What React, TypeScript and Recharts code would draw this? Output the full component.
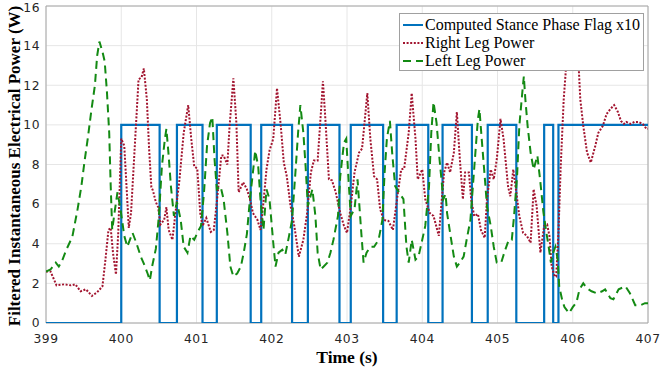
import React from "react";
import {
  LineChart,
  Line,
  XAxis,
  YAxis,
  CartesianGrid,
  ReferenceArea,
  Legend,
} from "recharts";

// stance flag (x10), step changes
const stanceTime = [
  399, 400.0, 400.51, 400.74, 401.08, 401.27, 401.72, 401.86, 402.27, 402.48,
  402.9, 403.05, 403.48, 403.66, 404.08, 404.27, 404.66, 404.87, 405.25,
  405.62, 405.74, 405.81, 407,
];
const stanceFlag = [
  0, 10, 0, 10, 0, 10, 0, 10, 0, 10, 0, 10, 0, 10, 0, 10, 0, 10, 0, 10, 0, 10,
  10,
];

const rightTime = [
  399.0, 399.06, 399.14, 399.24, 399.33, 399.39, 399.46, 399.53, 399.61,
  399.68, 399.75, 399.79, 399.83, 399.86, 399.89, 399.93, 399.96, 400.0,
  400.04, 400.07, 400.1, 400.13, 400.17, 400.23, 400.27, 400.3, 400.34, 400.37,
  400.4, 400.42, 400.46, 400.49, 400.52, 400.57, 400.6, 400.63, 400.68, 400.72,
  400.77, 400.83, 400.89, 400.93, 400.97, 401.01, 401.05, 401.08, 401.13,
  401.19, 401.23, 401.27, 401.33, 401.36, 401.41, 401.44, 401.49, 401.53,
  401.56, 401.62, 401.67, 401.71, 401.75, 401.81, 401.85, 401.89, 401.93,
  401.97, 402.02, 402.07, 402.12, 402.16, 402.2, 402.25, 402.3, 402.36, 402.42,
  402.47, 402.52, 402.56, 402.61, 402.66, 402.68, 402.71, 402.76, 402.8,
  402.85, 402.91, 402.96, 403.0, 403.05, 403.1, 403.16, 403.2, 403.27, 403.31,
  403.36, 403.4, 403.44, 403.49, 403.55, 403.61, 403.67, 403.72, 403.76,
  403.82, 403.86, 403.91, 403.94, 404.0, 404.04, 404.1, 404.15, 404.22, 404.26,
  404.29, 404.33, 404.37, 404.42, 404.46, 404.5, 404.54, 404.57, 404.62,
  404.65, 404.69, 404.74, 404.78, 404.83, 404.86, 404.91, 404.95, 404.99,
  405.04, 405.08, 405.14, 405.17, 405.21, 405.25, 405.29, 405.34, 405.39,
  405.44, 405.48, 405.52, 405.57, 405.62, 405.66, 405.69, 405.72, 405.76,
  405.78, 405.81, 405.84, 405.88, 405.91, 405.96, 406.03, 406.08, 406.1,
  406.14, 406.19, 406.24, 406.3, 406.34, 406.4, 406.45, 406.5, 406.55, 406.6,
  406.64, 406.68, 406.71, 406.77, 406.82, 406.87, 406.93, 406.98, 407.0,
];
const rightPower = [
  2.6, 2.6, 1.9, 1.95, 1.9, 1.95, 1.6, 1.7, 1.37, 1.55, 1.85, 3.2, 4.7, 4.8,
  3.55, 2.45, 4.55, 9.3, 8.95, 6.9, 4.8, 5.55, 8.25, 12.3, 12.4, 12.85, 11.3,
  8.8, 6.85, 6.7, 6.1, 5.85, 4.97, 5.2, 5.85, 4.7, 4.2, 5.55, 7.1, 9.6, 11.0,
  9.3, 7.9, 7.8, 5.55, 4.9, 5.3, 4.6, 4.7, 6.1, 8.45, 8.45, 8.0, 9.95, 12.35,
  10.1, 6.6, 7.1, 6.75, 6.25, 5.55, 5.2, 4.7, 6.1, 7.75, 8.7, 9.3, 11.85, 9.95,
  8.1, 7.4, 5.9, 4.9, 3.35, 4.2, 5.55, 7.6, 8.2, 8.2, 11.0, 12.2, 10.45, 7.25,
  7.2, 6.6, 5.55, 4.9, 4.55, 5.9, 7.6, 8.6, 8.8, 11.6, 9.3, 7.4, 7.25, 5.75,
  5.2, 5.15, 4.7, 6.4, 7.75, 7.8, 9.6, 11.6, 9.3, 7.25, 7.75, 6.25, 5.55, 5.4,
  4.4, 6.25, 7.6, 8.1, 7.6, 8.6, 10.65, 8.25, 6.25, 7.6, 7.6, 6.25, 5.4, 5.5,
  4.7, 4.3, 6.25, 7.75, 7.25, 8.25, 10.3, 9.3, 6.9, 6.4, 7.75, 6.6, 5.4, 4.55,
  4.4, 4.05, 6.75, 5.9, 3.55, 4.9, 4.97, 4.4, 2.85, 2.35, 2.35, 4.55, 7.9,
  11.3, 12.85, 14.8, 14.6, 12.85, 11.3, 9.95, 8.6, 8.1, 8.95, 9.6, 9.95, 10.55,
  10.8, 11.0, 10.65, 10.2, 10.05, 10.15, 10.05, 10.15, 10.15, 10.05, 9.8, 9.8,
];

const leftTime = [
  399.0, 399.06, 399.13, 399.17, 399.22, 399.27, 399.35, 399.42, 399.47,
  399.51, 399.56, 399.6, 399.65, 399.68, 399.71, 399.75, 399.78, 399.81,
  399.84, 399.86, 399.88, 399.91, 399.95, 399.99, 400.04, 400.08, 400.15,
  400.2, 400.26, 400.3, 400.35, 400.38, 400.41, 400.46, 400.5, 400.54, 400.58,
  400.6, 400.63, 400.66, 400.7, 400.74, 400.79, 400.83, 400.88, 400.92, 400.97,
  401.01, 401.06, 401.1, 401.14, 401.18, 401.21, 401.24, 401.27, 401.32,
  401.36, 401.41, 401.45, 401.49, 401.54, 401.59, 401.63, 401.67, 401.71,
  401.75, 401.78, 401.82, 401.85, 401.89, 401.93, 401.97, 402.02, 402.05,
  402.09, 402.14, 402.18, 402.23, 402.27, 402.32, 402.35, 402.38, 402.42,
  402.45, 402.48, 402.54, 402.58, 402.61, 402.65, 402.69, 402.74, 402.78,
  402.82, 402.88, 402.91, 402.96, 402.99, 403.02, 403.05, 403.1, 403.14,
  403.19, 403.22, 403.26, 403.31, 403.36, 403.42, 403.47, 403.5, 403.53,
  403.57, 403.6, 403.64, 403.69, 403.75, 403.79, 403.82, 403.86, 403.91,
  403.95, 404.0, 404.04, 404.09, 404.12, 404.15, 404.19, 404.23, 404.28,
  404.31, 404.33, 404.37, 404.42, 404.46, 404.5, 404.55, 404.59, 404.64,
  404.67, 404.71, 404.74, 404.76, 404.79, 404.83, 404.86, 404.91, 404.95,
  404.99, 405.05, 405.09, 405.15, 405.19, 405.22, 405.26, 405.29, 405.33,
  405.35, 405.37, 405.4, 405.44, 405.48, 405.53, 405.57, 405.61, 405.65,
  405.68, 405.71, 405.74, 405.77, 405.8, 405.82, 405.86, 405.89, 405.95, 406.0,
  406.05, 406.09, 406.14, 406.19, 406.25, 406.32, 406.39, 406.43, 406.5,
  406.54, 406.61, 406.7, 406.76, 406.83, 406.9, 406.96, 407.0,
];
const leftPower = [
  2.6, 2.7, 3.05, 2.85, 3.2, 3.7, 4.35, 5.75, 6.9, 8.1, 9.45, 10.65, 12.0,
  13.5, 14.2, 13.7, 13.2, 11.65, 9.6, 6.9, 4.7, 5.55, 6.6, 5.75, 4.4, 3.85,
  4.55, 4.05, 3.35, 3.0, 2.5, 2.15, 2.85, 3.75, 5.4, 7.9, 9.3, 9.8, 8.45, 6.9,
  5.4, 6.1, 5.2, 3.85, 3.55, 4.4, 4.2, 4.55, 4.9, 6.6, 8.95, 10.1, 10.4, 8.25,
  6.75, 6.9, 6.25, 4.55, 2.85, 2.35, 2.5, 2.85, 3.6, 4.5, 6.25, 7.6, 8.7, 7.9,
  6.25, 4.7, 6.75, 6.25, 4.05, 2.85, 3.55, 3.7, 3.45, 4.4, 5.2, 7.9, 9.6, 11.0,
  9.6, 7.9, 5.9, 6.75, 5.4, 3.55, 2.7, 2.85, 3.05, 3.55, 4.2, 5.4, 7.4, 9.1,
  9.3, 7.25, 5.4, 5.75, 7.25, 4.55, 3.05, 3.55, 3.85, 3.85, 4.2, 5.2, 7.6, 9.3,
  10.2, 8.6, 6.9, 6.6, 6.25, 3.85, 3.05, 4.2, 3.2, 3.35, 4.2, 4.9, 6.9, 9.6,
  11.15, 10.1, 8.25, 6.25, 6.5, 5.55, 4.55, 3.35, 2.85, 3.05, 3.35, 4.2, 5.2,
  6.75, 8.8, 10.3, 10.8, 9.3, 7.4, 5.9, 4.9, 3.85, 3.05, 3.05, 3.55, 4.2, 4.2,
  5.4, 7.4, 9.95, 11.65, 12.45, 11.3, 9.95, 8.6, 7.75, 8.45, 7.1, 5.6, 4.55,
  3.85, 3.05, 3.55, 3.85, 3.2, 1.85, 1.15, 0.8, 0.5, 0.8, 1.05, 1.7, 2.0, 1.75,
  1.6, 1.5, 1.6, 1.7, 1.25, 1.2, 1.7, 1.85, 1.5, 0.9, 0.9, 1.0, 1.0,
];

const xTicks = [399, 400, 401, 402, 403, 404, 405, 406, 407];
const yTicks = [0, 2, 4, 6, 8, 10, 12, 14, 16];

const stanceData = stanceTime.map((t, i) => ({ t, v: stanceFlag[i] }));
const rightData = rightTime.map((t, i) => ({ t, v: rightPower[i] }));
const leftData = leftTime.map((t, i) => ({ t, v: leftPower[i] }));

const BLUE = "#0072BD";
const RED = "#A2142F";
const GREEN = "#138a13";
const SERIF = "'Liberation Serif', 'Times New Roman', serif";

const legendItems = [
  { label: "Computed Stance Phase Flag x10", color: BLUE, dash: undefined },
  { label: "Right Leg Power", color: RED, dash: "2 1.6" },
  { label: "Left Leg Power", color: GREEN, dash: "8 5" },
];

function LegendBox() {
  return (
    <div
      style={{
        border: "1px solid #a0a0a0",
        background: "#fff",
        fontFamily: SERIF,
        fontSize: 16,
        color: "#000",
        padding: "2px 0 2px 2px",
        boxSizing: "border-box",
        height: 58,
      }}
    >
      {legendItems.map((it) => (
        <div key={it.label} style={{ display: "flex", alignItems: "center", height: 18 }}>
          <svg width={22} height={10} style={{ marginRight: 1 }}>
            <line
              x1={1}
              x2={21}
              y1={5}
              y2={5}
              stroke={it.color}
              strokeWidth={2}
              strokeDasharray={it.dash}
            />
          </svg>
          <span style={{ whiteSpace: "nowrap", lineHeight: "18px" }}>{it.label}</span>
        </div>
      ))}
    </div>
  );
}

const YLabel = () => (
  <text
    x={20}
    y={166}
    transform="rotate(-90 20 166)"
    textAnchor="middle"
    fontFamily={SERIF}
    fontWeight="bold"
    fontSize={17}
    fill="#000"
  >
    Filtered Instantaneous Electrical Power (W)
  </text>
);

export default function App() {
  const tick = {
    fontSize: 12.3,
    letterSpacing: 0.5,
    fill: "#262626",
    fontFamily: "'DejaVu Sans', sans-serif",
  };
  return (
    <div style={{ position: "absolute", left: 0, top: 0, background: "#fff" }}>
      <LineChart width={660} height={369} margin={{ top: 6, right: 12, bottom: 0, left: 0 }}>
        <CartesianGrid stroke="#e6e6e6" strokeWidth={1} />
        <XAxis
          dataKey="t"
          type="number"
          domain={[399, 407]}
          ticks={xTicks}
          allowDataOverflow
          height={46}
          tick={tick}
          tickLine={false}
          tickMargin={5}
          axisLine={false}
          label={{
            value: "Time (s)",
            position: "insideBottom",
            offset: 6,
            style: {
              fontFamily: SERIF,
              fontWeight: "bold",
              fontSize: 17.5,
              fill: "#000",
            },
          }}
        />
        <YAxis
          type="number"
          domain={[0, 16]}
          ticks={yTicks}
          allowDataOverflow
          width={46}
          tick={tick}
          tickLine={false}
          tickMargin={0}
          axisLine={false}
          label={<YLabel />}
        />
        <ReferenceArea x1={399} x2={407} y1={0} y2={16} fill="none" stroke="#a6a6a6" strokeWidth={1} />
        <Line
          data={stanceData}
          dataKey="v"
          type="stepAfter"
          stroke={BLUE}
          strokeWidth={2.2}
          dot={false}
          isAnimationActive={false}
        />
        <Line
          data={rightData}
          dataKey="v"
          type="linear"
          stroke={RED}
          strokeWidth={2}
          strokeDasharray="2 1.6"
          dot={false}
          isAnimationActive={false}
        />
        <Line
          data={leftData}
          dataKey="v"
          type="linear"
          stroke={GREEN}
          strokeWidth={2}
          strokeDasharray="8 5"
          dot={false}
          isAnimationActive={false}
        />
        <Legend
          layout="horizontal"
          verticalAlign="middle"
          align="center"
          content={() => <LegendBox />}
          wrapperStyle={{ position: "absolute", left: 399, top: 13, width: 245, height: 58 }}
        />
      </LineChart>
    </div>
  );
}
